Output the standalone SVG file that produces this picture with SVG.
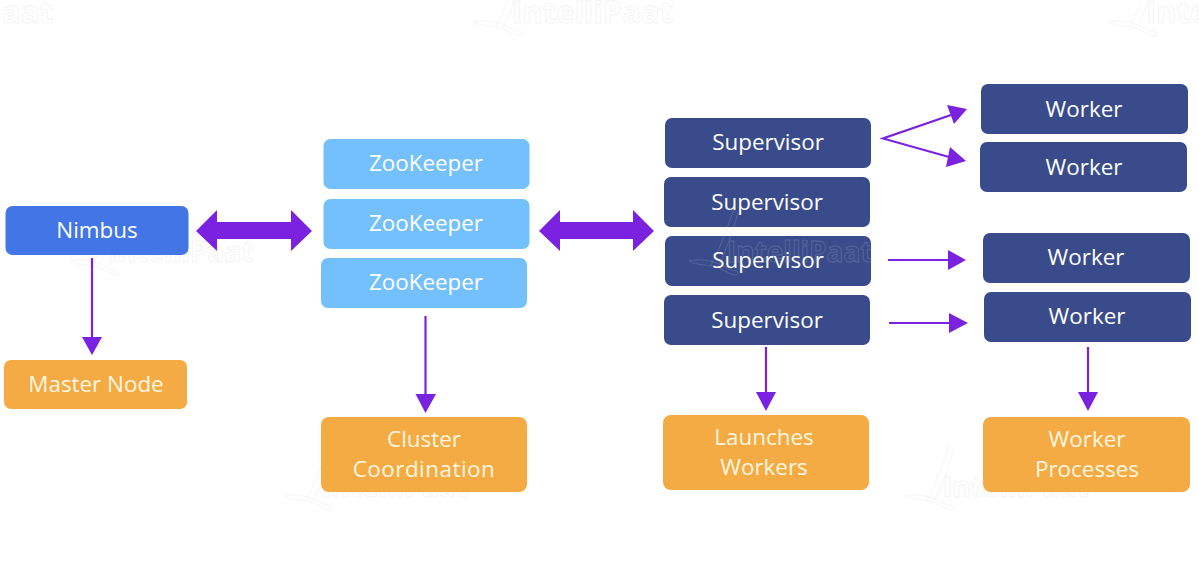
<svg xmlns="http://www.w3.org/2000/svg" width="1199" height="563" viewBox="0 0 1199 563">
<style>
text{font-family:"Open Sans","Noto Sans","Liberation Sans",sans-serif;font-size:22.4px;font-weight:400;text-anchor:middle;fill:#fff}
.nim{fill:#4275e6}.zoo{fill:#74c0fc}.sup{fill:#394b8b}.org{fill:#f4ab43}
.org~text{fill:#fff6e0}
text.wm{font-size:31px;font-weight:700;fill:#fff;stroke:#f5f5f5;stroke-width:1;text-anchor:start}
text.wm.s{font-size:28px}
.wing{fill:none;stroke:#f5f5f5;stroke-width:1}
.over{opacity:.2}
.ln{stroke:#7a22e0;stroke-width:2.2;fill:none}
.hd{fill:#7a22e0}
</style>
<defs>
<path id="wing" d="M-38 -1C-25 -4 -12 -1 0 6C6 9 12 8 11 12C8 15 0 10 -8 6C-18 2 -30 4 -38 -1ZM-16 3C-8 -10 0 -35 7 -52M-8 3C-2 -10 6 -30 11 -50"/>
</defs>
<rect width="1199" height="563" fill="#fff"/>
<g id="watermarks">
<text class="wm" x="2" y="23">aat</text>
<text class="wm" x="512" y="23">IntelliPaat</text>
<text class="wm" x="1146" y="23">Inte</text>
<use href="#wing" class="wing" x="512" y="23"/>
<use href="#wing" class="wing" x="1146" y="23"/>
<text class="wm s" x="108" y="262">IntelliPaat</text>
<use href="#wing" class="wing" x="108" y="262"/>
<text class="wm s" x="322" y="497">IntelliPaat</text>
<use href="#wing" class="wing" x="322" y="497"/>
<text class="wm s" x="943" y="497">IntelliPaat</text>
<use href="#wing" class="wing" x="943" y="497"/>
</g>
<g id="connectors">
<path class="hd" d="M196 231L217 210V222H291V210L312 231L291 251V239H217V251Z"/>
<path class="hd" d="M539 231L560 210V222H633V210L654 231L633 251V239H560V251Z"/>
<path class="ln" d="M92 258V338"/><path class="hd" d="M82 337H102L92 355Z"/>
<path class="ln" d="M425.500 316V395"/><path class="hd" d="M415.500 394H436L425.500 413Z"/>
<path class="ln" d="M766 347V393"/><path class="hd" d="M756 392H776L766 411Z"/>
<path class="ln" d="M1088 347V393"/><path class="hd" d="M1078 392H1098L1088 411Z"/>
<path class="ln" d="M951 115L883 138.500L949 157"/>
<path class="hd" d="M967 109L947 105L954 124Z"/>
<path class="hd" d="M966 161L950 147L946 167Z"/>
<path class="ln" d="M888 260H950"/><path class="hd" d="M948 250L966 260L948 270Z"/>
<path class="ln" d="M889 323H951"/><path class="hd" d="M949 313L968 323L949 333Z"/>
</g>
<g id="nimbus"><rect class="nim" x="5.500" y="206" width="183" height="49" rx="7"/><text x="97" y="238">Nimbus</text></g>
<g id="master-node"><rect class="org" x="4" y="360" width="183" height="49" rx="7"/><text x="96" y="392">Master Node</text></g>
<g id="zookeeper-1"><rect class="zoo" x="323.500" y="139" width="206" height="50" rx="7"/><text x="426" y="171">ZooKeeper</text></g>
<g id="zookeeper-2"><rect class="zoo" x="323.500" y="199" width="206" height="50" rx="7"/><text x="426" y="231">ZooKeeper</text></g>
<g id="zookeeper-3"><rect class="zoo" x="321" y="258" width="206" height="50" rx="7"/><text x="426" y="290">ZooKeeper</text></g>
<g id="cluster-coordination"><rect class="org" x="321" y="417" width="206" height="75" rx="8"/><text x="424" y="447">Cluster</text><text x="424" y="477" style="letter-spacing:.5px">Coordination</text></g>
<g id="supervisor-1"><rect class="sup" x="665" y="118" width="206" height="50" rx="7"/><text x="768" y="150">Supervisor</text></g>
<g id="supervisor-2"><rect class="sup" x="664" y="177" width="206" height="50" rx="7"/><text x="767" y="210">Supervisor</text></g>
<g id="supervisor-3"><rect class="sup" x="665" y="236" width="206" height="50" rx="7"/><text x="768" y="268">Supervisor</text></g>
<g id="supervisor-4"><rect class="sup" x="664" y="295" width="206" height="50" rx="7"/><text x="767" y="328">Supervisor</text></g>
<g id="launches-workers"><rect class="org" x="663" y="415" width="206" height="75" rx="8"/><text x="764" y="445">Launches</text><text x="764" y="475">Workers</text></g>
<g id="worker-1"><rect class="sup" x="981" y="84" width="207" height="50" rx="7"/><text x="1084" y="117">Worker</text></g>
<g id="worker-2"><rect class="sup" x="980" y="142" width="207" height="50" rx="7"/><text x="1084" y="175">Worker</text></g>
<g id="worker-3"><rect class="sup" x="983" y="233" width="207" height="50" rx="7"/><text x="1086" y="265">Worker</text></g>
<g id="worker-4"><rect class="sup" x="984" y="292" width="207" height="50" rx="7"/><text x="1087" y="324">Worker</text></g>
<g id="worker-processes"><rect class="org" x="983" y="417" width="207" height="75" rx="8"/><text x="1087" y="447">Worker</text><text x="1087" y="477">Processes</text></g>
<g id="watermark-over" class="over">
<text class="wm s" x="727" y="262" style="fill:none;stroke:#c9c9d6">IntelliPaat</text>
<use href="#wing" x="727" y="262" style="fill:none;stroke:#c9c9d6"/>
</g>
</svg>
